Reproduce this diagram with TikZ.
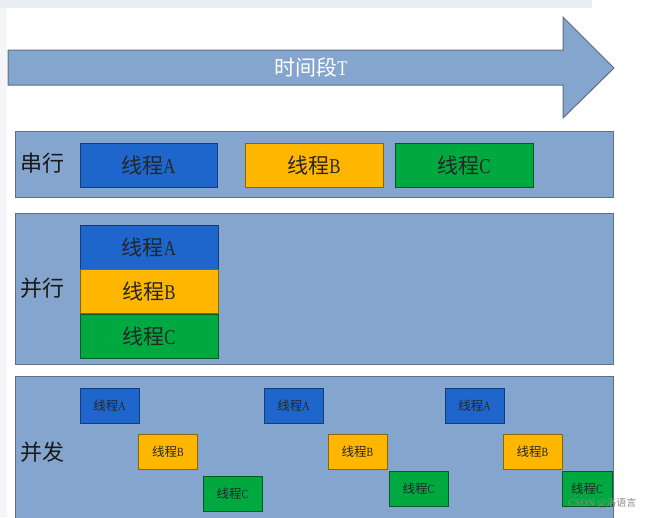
\documentclass[tikz,border=0pt]{standalone}
\usepackage{fontspec}
\setmainfont{Liberation Serif}
\newfontfamily\cjk{Noto Sans CJK SC}
\usepackage{tikz}
\usetikzlibrary{positioning}

\definecolor{panelfill}{RGB}{132,165,205}
\definecolor{paneldraw}{RGB}{95,110,130}
\definecolor{tblue}{RGB}{30,102,204}
\definecolor{torange}{RGB}{255,182,0}
\definecolor{tgreen}{RGB}{0,168,64}
\definecolor{screen}{RGB}{234,238,244}

\newcommand{\xc}[1]{{\cjk 线程}\scalebox{0.8}[1]{#1}}

\begin{document}
\begin{tikzpicture}[x=1pt,y=-1pt,node distance=0pt]
      \tikzstyle{panel}=[fill=panelfill,draw=paneldraw,line width=1pt]
      \tikzstyle{thr}=[draw,line width=0.9pt,inner sep=0pt,minimum width=138pt,minimum height=44pt,font=\fontsize{21}{24}\selectfont,text=black!85]
      \tikzstyle{small}=[thr,minimum width=59pt,minimum height=35pt,font=\fontsize{12.5}{14}\selectfont]
      \tikzstyle{ta}=[fill=tblue,draw=tblue!60!black]
      \tikzstyle{tb}=[fill=torange,draw=torange!55!black]
      \tikzstyle{tc}=[fill=tgreen,draw=tgreen!55!black]
      \tikzstyle{lbl}=[font=\cjk\fontsize{22}{24}\selectfont,text=black!90]
      \useasboundingbox (0,0) rectangle (650,517);
      % screenshot edges
      \fill[screen] (0,0) rectangle (592,8);
      \fill[screen!60] (0,8) rectangle (7,517);
      % time arrow
      \draw[panel] (8,50) -- (563,50) -- (563,17) -- (614,68) -- (563,118) -- (563,85) -- (8,85) -- cycle;
      \node[font=\fontsize{21}{24}\selectfont,text=white] (time) at (311,67) {{\cjk 时间段}\scalebox{0.8}[1]{T}};
      % panels
      \draw[panel] (15,131) rectangle (613,197);
      \draw[panel] (15,213) rectangle (613,364);
      \draw[panel] (15,376) rectangle (613,525);
      \node[lbl] (serial) at (42,163) {串行};
      \node[lbl] (parallel) at (42,288) {并行};
      \node[lbl] (concur) at (42,452) {并发};
      % serial
      \node[thr,ta,minimum width=137pt] (sa) at (148.5,165) {\xc{A}};
      \node[thr,tb] (sb) at (314,165) {\xc{B}};
      \node[thr,tc] (sc) at (464,165) {\xc{C}};
      % parallel
      \node[thr,ta] (pa) at (149,247) {\xc{A}};
      \node[thr,tb,below=of pa] (pb) {\xc{B}};
      \node[thr,tc,below=of pb] (pc) {\xc{C}};
      % concurrent
      \node[small,ta] (ca1) at (109.5,405.5) {\xc{A}};
      \node[small,tb] (cb1) at (168,452) {\xc{B}};
      \node[small,tc] (cc1) at (232.5,494) {\xc{C}};
      \node[small,ta] (ca2) at (293.5,405.5) {\xc{A}};
      \node[small,tb] (cb2) at (357.5,452) {\xc{B}};
      \node[small,tc] (cc2) at (418.5,489) {\xc{C}};
      \node[small,ta] (ca3) at (474.5,405.5) {\xc{A}};
      \node[small,tb] (cb3) at (532.5,452) {\xc{B}};
      \node[small,tc,minimum width=50pt] (cc3) at (587,489) {\xc{C}};
      \node[font=\fontsize{10}{12}\selectfont,text=black!45,anchor=east] (mark) at (640,503) {CSDN @{\cjk 洛语言}};
    \end{tikzpicture}
\end{document}
